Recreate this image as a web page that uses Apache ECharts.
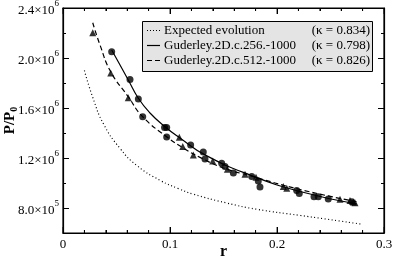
<!DOCTYPE html>
<html><head><meta charset="utf-8">
<script src="https://cdn.jsdelivr.net/npm/echarts@6/dist/echarts.min.js"></script>
<style>html,body{margin:0;padding:0;background:#fff}#c{width:393px;height:257px}</style>
</head><body><div id="c"></div>
<script>
// Expected evolution (dotted)
const expX=[0.020,0.028,0.038,0.053,0.069,0.091,0.108,0.122,0.153,0.181,0.222,0.243,0.278];
const expY=[1.90e6,1.68e6,1.47e6,1.28e6,1.14e6,1.02e6,0.955e6,0.91e6,0.84e6,0.79e6,0.74e6,0.715e6,0.672e6];
// Guderley 256 fit (solid)
const fit256X=[0.0455,0.0533,0.061,0.0704,0.0813,0.0953,0.1093,0.1327,0.1748,0.2215,0.2745];
const fit256Y=[2.064e6,1.944e6,1.824e6,1.678e6,1.56e6,1.45e6,1.36e6,1.225e6,1.064e6,0.932e6,0.832e6];
// Guderley 512 fit (dashed)
const fit512X=[0.0278,0.0346,0.0446,0.061,0.0745,0.0969,0.1124,0.128,0.150,0.1748,0.2215,0.2745];
const fit512Y=[2.282e6,2.104e6,1.890e6,1.690e6,1.530e6,1.370e6,1.280e6,1.205e6,1.12e6,1.058e6,0.948e6,0.850e6];
// Guderley 256 points (circles)
const pts256X=[0.0455,0.0626,0.0704,0.0745,0.0949,0.0969,0.0969,0.1193,0.1311,0.1327,0.1483,0.1514,0.1592,0.1764,0.1825,0.1841,0.2184,0.2208,0.2346,0.2386,0.2479,0.2698];
const pts256Y=[2.050e6,1.828e6,1.672e6,1.530e6,1.444e6,1.444e6,1.368e6,1.304e6,1.248e6,1.192e6,1.158e6,1.132e6,1.080e6,1.052e6,1.016e6,0.968e6,0.940e6,0.916e6,0.890e6,0.890e6,0.872e6,0.850e6];
// Guderley 512 points (triangles)
const pts512X=[0.0278,0.0446,0.061,0.1087,0.1119,0.1218,0.1399,0.1536,0.1701,0.1804,0.2059,0.2091,0.2589,0.2682,0.2713,0.2729];
const pts512Y=[2.202e6,1.880e6,1.682e6,1.366e6,1.292e6,1.224e6,1.176e6,1.110e6,1.070e6,1.046e6,0.972e6,0.958e6,0.870e6,0.860e6,0.848e6,0.842e6];
// Tick values
const xMajorTicks=[0,0.1,0.2,0.3];
const xMinorTicks=[0.02,0.04,0.06,0.08,0.12,0.14,0.16,0.18,0.22,0.24,0.26,0.28];
const yLabelValues=[8e5,1.2e6,1.6e6,2.0e6,2.4e6];
const yMin=6e5, yMax=2.4e6;
// Legend
const legendNames=['Expected evolution','Guderley.2D.c.256.-1000','Guderley.2D.c.512.-1000'];
const legendKappa=['(κ = 0.834)','(κ = 0.798)','(κ = 0.826)'];

const FONT='Liberation Serif';
const zip=(a,b)=>a.map((v,i)=>[v,b[i]]);
function sci(v){
  const e=Math.floor(Math.log10(v)+1e-9);
  const m=(v/Math.pow(10,e)).toFixed(1);
  return '{m|'+m+'×10}{s|'+e+'}';
}
const lineCommon={show:true,onZero:false,lineStyle:{color:'#000',width:1.2}};
const majorTick={show:true,inside:true,length:6,customValues:yLabelValues,lineStyle:{color:'#000',width:1}};
const minorY={show:true,inside:true,length:3,lineStyle:{color:'#000',width:1}};

const chart=echarts.init(document.getElementById('c'),null,{renderer:'canvas'});
const dashes=[[1,2],null,[5,3]];
const legendChildren=[{type:'rect',shape:{x:142.5,y:21.5,width:230,height:50},style:{fill:'#e4e4e4',stroke:'#000',lineWidth:1}}];
legendNames.forEach((n,i)=>{
  const y=30.5+i*15;
  legendChildren.push({type:'line',shape:{x1:147,y1:y,x2:160,y2:y},style:{stroke:'#000',lineWidth:1.2,lineDash:dashes[i]}});
  legendChildren.push({type:'text',style:{x:164,y:y,text:n,fontFamily:FONT,fontSize:13,fill:'#000',verticalAlign:'middle'}});
  legendChildren.push({type:'text',style:{x:370,y:y,text:legendKappa[i],fontFamily:FONT,fontSize:13,fill:'#000',verticalAlign:'middle',align:'right'}});
});

function xAx(pos,labels){
  return {type:'value',min:0,max:0.3,interval:0.1,position:pos,
    axisLine:lineCommon,
    axisTick:{show:true,inside:true,length:6,lineStyle:{color:'#000',width:1}},
    minorTick:{show:true,splitNumber:5,length:3,lineStyle:{color:'#000',width:1}},
    splitLine:{show:false},
    axisLabel:labels?{color:'#000',fontFamily:FONT,fontSize:13,margin:5,customValues:xMajorTicks}:{show:false},
    name:labels?'r':'',nameLocation:'middle',nameGap:11,nameMoveOverlap:false,
    nameTextStyle:{color:'#000',fontFamily:FONT,fontSize:16,fontWeight:'bold'}};
}
function yAx(pos,labels){
  return {type:'value',min:yMin,max:yMax,interval:2e5,position:pos,
    axisLine:lineCommon,
    axisTick:majorTick,
    minorTick:{show:false},
    splitLine:{show:false},
    axisLabel:labels?{margin:4,customValues:yLabelValues,formatter:v=>sci(v),
      rich:{m:{fontFamily:FONT,fontSize:13,color:'#000',lineHeight:18,verticalAlign:'bottom'},
            s:{fontFamily:FONT,fontSize:9,color:'#000',lineHeight:18,verticalAlign:'top'}}}:{show:false},
    name:labels?'{a|P/P}{b|0}':'',nameLocation:'middle',nameGap:44,nameMoveOverlap:false,
    nameTextStyle:{rich:{a:{fontFamily:FONT,fontSize:15,fontWeight:'bold',color:'#000',lineHeight:18},
                         b:{fontFamily:FONT,fontSize:10,fontWeight:'bold',color:'#000',lineHeight:18,verticalAlign:'bottom'}}}};
}
function yMinor(pos){
  return {type:'value',min:yMin,max:yMax,interval:2e5,position:pos,
    axisLine:{show:false,onZero:false},axisTick:minorY,minorTick:{show:false},
    splitLine:{show:false},axisLabel:{show:false}};
}
// tick marks drawn as thin rect symbols placed by the axis scales
function tickSeries(vals,yv,len,dir){
  return {type:'scatter',silent:true,clip:false,z:6,
    data:vals.map(v=>[v,yv]),symbol:'rect',symbolSize:[1,len],symbolOffset:[0,dir*len/2],
    itemStyle:{color:'#000'},emphasis:{disabled:true},tooltip:{show:false}};
}

chart.setOption({
  animation:false,
  backgroundColor:'#fff',
  grid:{left:63,right:9,top:8,bottom:24,containLabel:false,outerBoundsMode:'none',
        show:true,borderColor:'#000',borderWidth:1.2,backgroundColor:'transparent'},
  xAxis:[xAx('bottom',true),xAx('top',false)],
  yAxis:[yAx('left',true),yAx('right',false),yMinor('left'),yMinor('right')],
  series:[
    {type:'line',data:zip(expX,expY),smooth:0.5,showSymbol:false,
     lineStyle:{color:'#000',width:1.2,type:[1,2.5]}},
    {type:'line',data:zip(fit256X,fit256Y),smooth:0.5,showSymbol:false,
     lineStyle:{color:'#000',width:1.2,type:'solid'}},
    {type:'line',data:zip(fit512X,fit512Y),smooth:0.5,showSymbol:false,
     lineStyle:{color:'#000',width:1.2,type:[5,3]}},
    {type:'scatter',data:zip(pts256X,pts256Y),symbol:'circle',symbolSize:7,itemStyle:{color:'#000'},z:5},
    {type:'scatter',data:zip(pts512X,pts512Y),symbol:'triangle',symbolSize:7,itemStyle:{color:'#000'},z:5},
    tickSeries(xMajorTicks,yMin,6,-1),
    tickSeries(xMinorTicks,yMin,3,-1),
    tickSeries(xMajorTicks,yMax,6,1),
    tickSeries(xMinorTicks,yMax,3,1)
  ],
  graphic:[{type:'group',z:100,children:legendChildren}]
});
</script></body></html>
